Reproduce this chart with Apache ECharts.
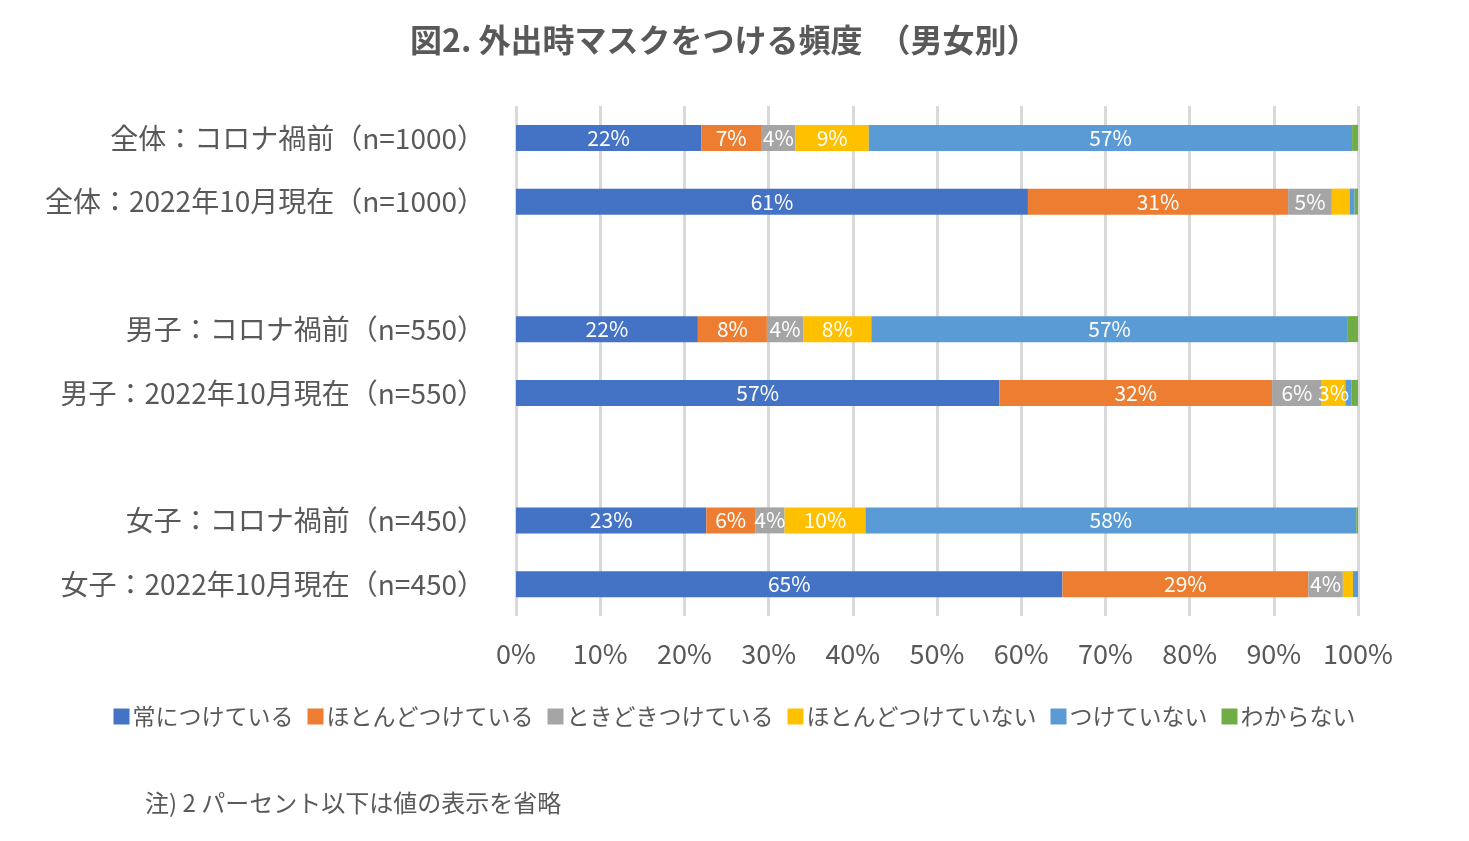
<!DOCTYPE html>
<html>
<head>
<meta charset="utf-8">
<script src="https://cdn.jsdelivr.net/npm/echarts@6/dist/echarts.min.js"></script>
<style>
  html, body { margin: 0; padding: 0; background: #fff; }
  #main { width: 1469px; height: 841px; }
</style>
</head>
<body>
<div id="main"></div>
<script>
// 外出時マスクをつける頻度（男女別）
var chart = echarts.init(document.getElementById('main'));

const categories = [
    '全体：コロナ禍前（n=1000）',
    '全体：2022年10月現在（n=1000）',
    '',
    '男子：コロナ禍前（n=550）',
    '男子：2022年10月現在（n=550）',
    '',
    '女子：コロナ禍前（n=450）',
    '女子：2022年10月現在（n=450）'
];
const seriesNames = ['常につけている', 'ほとんどつけている', 'ときどきつけている', 'ほとんどつけていない', 'つけていない', 'わからない'];
const colors = ['#4472C4', '#ED7D31', '#A5A5A5', '#FFC000', '#5B9BD5', '#70AD47'];

const always    = [22.0, 60.8, null, 21.6, 57.4, null, 22.6, 64.9];
const mostly    = [7.1, 30.9, null, 8.2, 32.4, null, 5.8, 29.2];
const sometimes = [4.1, 5.2, null, 4.3, 5.9, null, 3.5, 4.1];
const rarely    = [8.7, 2.1, null, 8.1, 2.8, null, 9.6, 1.2];
const never     = [57.4, 0.6, null, 56.6, 0.7, null, 58.3, 0.6];
const unknown   = [0.7, 0.4, null, 1.2, 0.8, null, 0.2, 0.0];
const values = [always, mostly, sometimes, rarely, never, unknown];

const xTicks = [0, 10, 20, 30, 40, 50, 60, 70, 80, 90, 100];

const font = '"Noto Sans CJK JP", "Noto Sans", sans-serif';
const textColor = '#595959';

var series = seriesNames.map(function (name, i) {
    return {
        name: name,
        type: 'bar',
        stack: 'total',
        barWidth: 26,
        data: values[i],
        itemStyle: { color: colors[i] },
        label: {
            show: true,
            position: 'inside',
            color: '#fff',
            fontSize: 21,
            fontFamily: font,
            formatter: function (p) {
                // 2パーセント以下は省略
                return p.value > 2.5 ? Math.round(p.value) + '%' : '';
            }
        }
    };
});

var option = {
    animation: false,
    color: colors,
    title: {
        text: '図2. 外出時マスクをつける頻度　（男女別）',
        left: 405,
        top: 19,
        textStyle: {
            color: textColor,
            fontSize: 32,
            fontWeight: 'bold',
            fontFamily: font
        }
    },
    grid: {
        left: 516,
        right: 111,
        top: 106,
        bottom: 225,
        containLabel: false
    },
    legend: {
        data: seriesNames,
        left: 'center',
        top: 700,
        icon: 'rect',
        itemWidth: 16,
        itemHeight: 16,
        itemGap: 14,
        textStyle: {
            color: textColor,
            fontSize: 23,
            fontFamily: font,
            padding: [0, 0, 0, -2]
        }
    },
    xAxis: {
        type: 'value',
        min: 0,
        max: 100,
        interval: 10,
        axisLine: { show: false },
        axisTick: { show: false },
        splitLine: { lineStyle: { color: '#D9D9D9', width: 3 } },
        axisLabel: {
            formatter: function (v) { return xTicks.indexOf(v) >= 0 ? v + '%' : ''; },
            color: textColor,
            fontSize: 27,
            fontFamily: font,
            margin: 24
        }
    },
    yAxis: {
        type: 'category',
        inverse: true,
        data: categories,
        axisLine: { show: false },
        axisTick: { show: false },
        axisLabel: {
            color: textColor,
            fontSize: 28,
            fontFamily: font,
            margin: 31
        }
    },
    graphic: [{
        type: 'text',
        left: 145,
        top: 791,
        style: {
            text: '注) 2 パーセント以下は値の表示を省略',
            fill: textColor,
            fontSize: 24,
            fontFamily: font
        }
    }],
    series: series
};

chart.setOption(option);

window.addEventListener('resize', function () {
    chart.resize();
});
</script>
</body>
</html>
